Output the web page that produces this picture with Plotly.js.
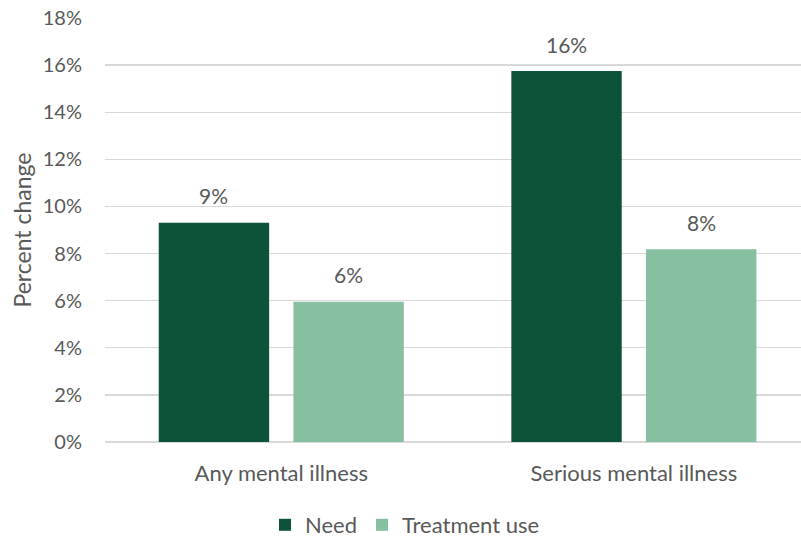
<!DOCTYPE html>
<html>
<head>
<meta charset="utf-8">
<script src="https://cdn.plot.ly/plotly-3.0.1.min.js"></script>
<style>html,body{margin:0;padding:0;background:#fff;}#chart{width:801px;height:539px;}</style>
</head>
<body>
<div id="chart"></div>
<script>
const categories = ["Any mental illness", "Serious mental illness"];
const seriesNames = ["Need", "Treatment use"];
const needValues = [0.0931, 0.1575];
const treatmentValues = [0.0595, 0.0818];
const yTickValues = [0, 0.02, 0.04, 0.06, 0.08, 0.10, 0.12, 0.14, 0.16, 0.18];

const colors = ["#0d533a", "#87bfa1"];
const textColor = "#595959";
const font = "Lato, 'Liberation Sans', sans-serif";
const bargap = 0.236, bargroupgap = 0.1805;

const idx = categories.map((c, i) => i);
const series = [needValues, treatmentValues];

const traces = series.map((vals, s) => ({
  type: "bar",
  name: seriesNames[s],
  x: idx,
  y: vals,
  marker: {color: colors[s]},
  hoverinfo: "skip"
}));

const slot = (1 - bargap) / 2;
const annotations = [];
series.forEach((vals, s) => {
  vals.forEach((v, i) => {
    annotations.push({
      x: i + (s === 0 ? -slot / 2 : slot / 2),
      y: v,
      xref: "x", yref: "y",
      text: Math.round(v * 100) + "%",
      showarrow: false,
      yanchor: "middle",
      yshift: 27,
      font: {family: font, size: 21, color: textColor}
    });
  });
});

const layout = {
  width: 801, height: 539,
  margin: {l: 105, r: 0, t: 18, b: 97},
  paper_bgcolor: "#fff", plot_bgcolor: "#fff",
  barmode: "group", bargap: bargap, bargroupgap: bargroupgap,
  font: {family: font, size: 22, color: textColor},
  xaxis: {
    range: [-0.5, 1.474],
    tickvals: idx, ticktext: categories,
    ticks: "", showgrid: false, zeroline: false, showline: false,
    ticklabelstandoff: 16,
    tickfont: {family: font, size: 22, color: textColor}
  },
  yaxis: {
    range: [0, 0.18],
    tickvals: yTickValues, tickformat: ".0%",
    ticks: "", showgrid: true, gridcolor: "#d9d9d9", gridwidth: 1.3,
    zeroline: true, zerolinecolor: "#d9d9d9", zerolinewidth: 1.3,
    showline: false, ticklabelstandoff: 22,
    tickfont: {family: font, size: 20, color: textColor},
    title: {text: "Percent change", standoff: 4, font: {family: font, size: 23, color: textColor}}
  },
  showlegend: true,
  legend: {
    orientation: "h", x: 0.431, xanchor: "center",
    yref: "container", y: 0.026, yanchor: "middle",
    font: {family: font, size: 22, color: textColor}, traceorder: "normal"
  },
  annotations: annotations
};

Plotly.newPlot("chart", traces, layout, {displayModeBar: false, staticPlot: true});
</script>
</body>
</html>
